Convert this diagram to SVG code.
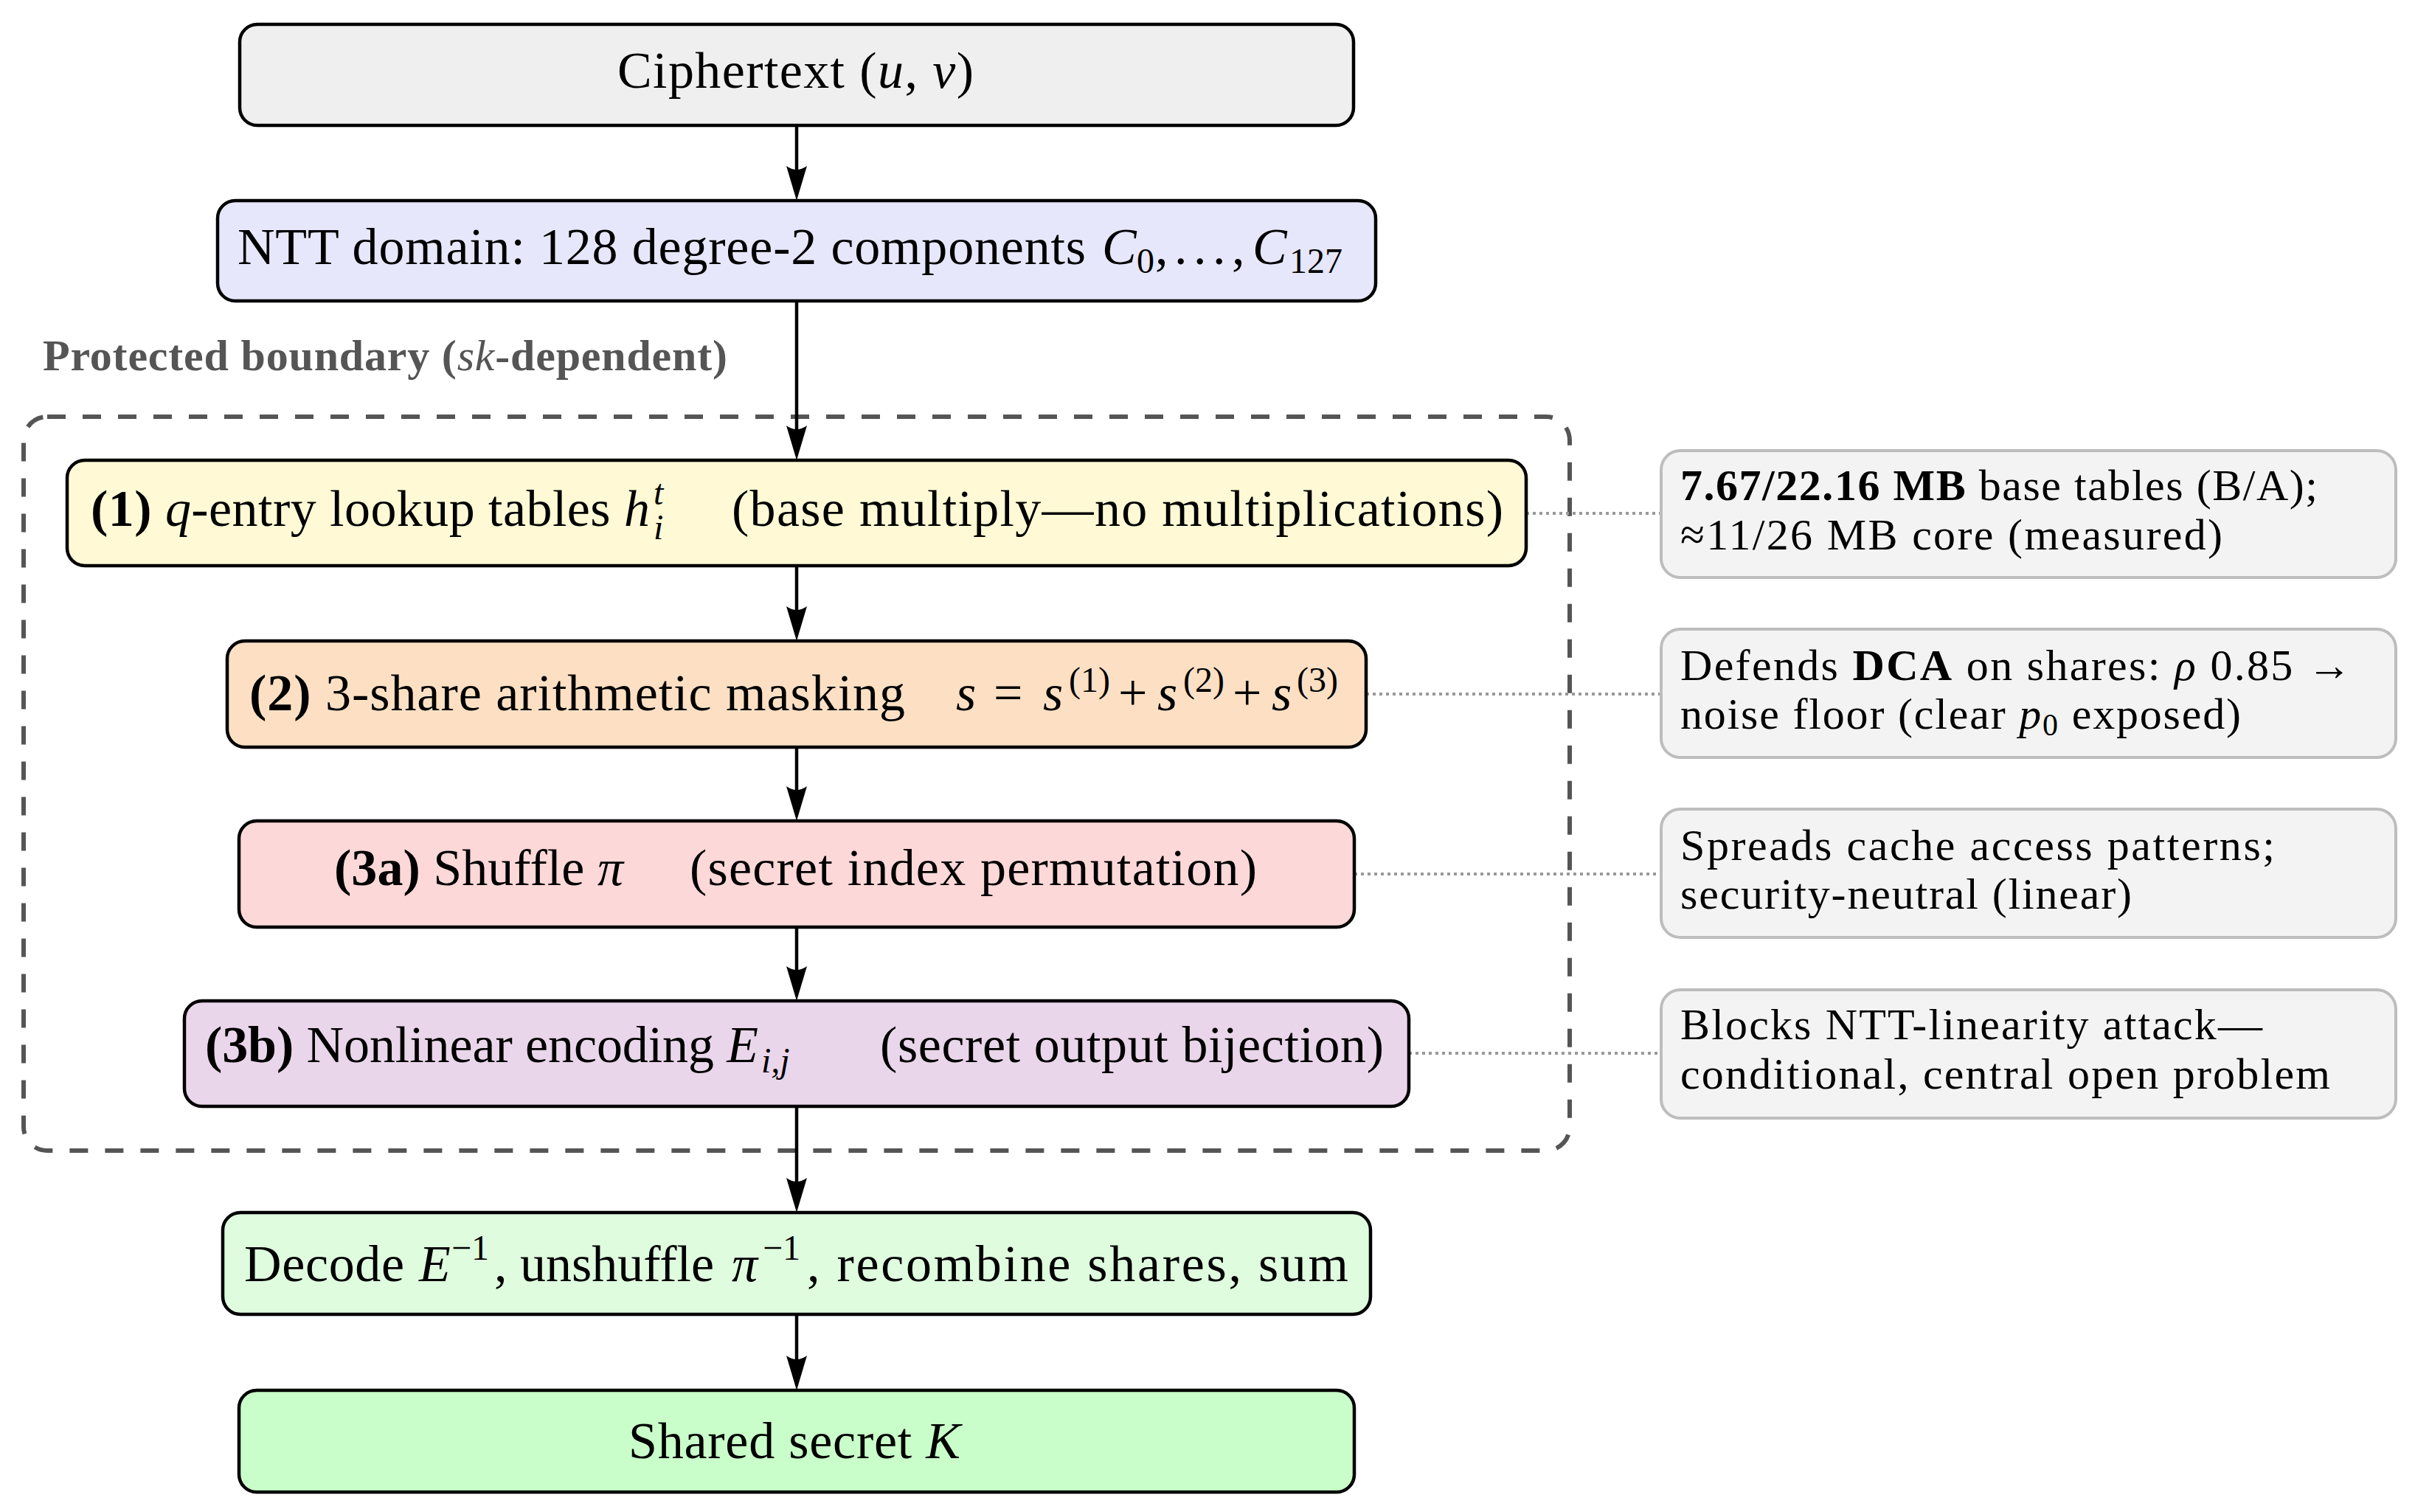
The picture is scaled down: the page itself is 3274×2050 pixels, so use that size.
<svg xmlns="http://www.w3.org/2000/svg" width="3274" height="2050" viewBox="0 0 3274 2050">
<style>
text{font-family:"Liberation Serif","Times New Roman",serif;fill:#000}
.m{font-size:70px}
.n{font-size:60px}
.s{font-size:48px}
.ns{font-size:42px}
.b{font-weight:bold}
.i{font-style:italic}
.box{stroke:#000;stroke-width:4.5}
.note{fill:#f3f3f3;stroke:#bdbdbd;stroke-width:4}
.arr{stroke:#000;stroke-width:4.5;fill:none}
.dot{stroke:#999;stroke-width:4;stroke-dasharray:4 5;fill:none}
.bound{fill:none;stroke:#555;stroke-width:6;stroke-dasharray:25 23}
.lbl{font-size:60px;font-weight:bold;fill:#555}
</style>
<defs>
<marker id="ah" viewBox="0 0 50 32" markerWidth="50" markerHeight="32" refX="38" refY="16" orient="auto" markerUnits="userSpaceOnUse">
<path d="M48,16 L1,2 Q11,16 1,30 Z" fill="#000"/>
</marker>
</defs>
<rect width="3274" height="2050" fill="#fff"/>

<g id="boundary">
<rect class="bound" x="32" y="565" width="2096" height="995" rx="32"/>
<text class="lbl" x="58" y="502" textLength="928" lengthAdjust="spacing">Protected boundary (<tspan font-style="italic" font-weight="normal">sk</tspan>-dependent)</text>
</g>

<g id="connectors">
<line class="dot" x1="2069" y1="696" x2="2252" y2="696"/>
<line class="dot" x1="1852" y1="941" x2="2252" y2="941"/>
<line class="dot" x1="1836" y1="1185" x2="2252" y2="1185"/>
<line class="dot" x1="1910" y1="1428" x2="2252" y2="1428"/>
<line class="arr" x1="1080" y1="170" x2="1080" y2="262" marker-end="url(#ah)"/>
<line class="arr" x1="1080" y1="408" x2="1080" y2="614" marker-end="url(#ah)"/>
<line class="arr" x1="1080" y1="767" x2="1080" y2="859" marker-end="url(#ah)"/>
<line class="arr" x1="1080" y1="1013" x2="1080" y2="1103" marker-end="url(#ah)"/>
<line class="arr" x1="1080" y1="1257" x2="1080" y2="1347" marker-end="url(#ah)"/>
<line class="arr" x1="1080" y1="1500" x2="1080" y2="1634" marker-end="url(#ah)"/>
<line class="arr" x1="1080" y1="1782" x2="1080" y2="1875" marker-end="url(#ah)"/>
</g>

<g id="ciphertext">
<rect class="box" x="325" y="33" width="1510" height="137" rx="24" fill="#efefef"/>
<text class="m" x="837" y="119" textLength="483" lengthAdjust="spacing">Ciphertext (<tspan class="i">u</tspan>, <tspan class="i">v</tspan>)</text>
</g>

<g id="ntt">
<rect class="box" x="295" y="272" width="1570" height="136" rx="24" fill="#e7e7fb"/>
<text class="m" x="322" y="358" textLength="1150" lengthAdjust="spacing">NTT domain: 128 degree-2 components</text>
<text class="m" y="358"><tspan class="i" x="1494">C</tspan><tspan class="s" x="1541" y="370">0</tspan><tspan x="1566" y="358" style="word-spacing:-9px">, . . . ,</tspan><tspan class="i" x="1698">C</tspan><tspan class="s" x="1748" y="370">127</tspan></text>
</g>

<g id="step1">
<rect class="box" x="91" y="624" width="1978" height="143" rx="24" fill="#fffad5"/>
<text class="m" x="123" y="713" textLength="758" lengthAdjust="spacing"><tspan class="b">(1)</tspan> <tspan class="i">q</tspan>-entry lookup tables <tspan class="i">h</tspan></text>
<text class="s i" x="886" y="684">t</text>
<text class="s i" x="886" y="731">i</text>
<text class="m" x="992" y="713" textLength="1046" lengthAdjust="spacing">(base multiply—no multiplications)</text>
</g>

<g id="step2">
<rect class="box" x="308" y="869" width="1544" height="144" rx="24" fill="#fde0c4"/>
<text class="m" x="338" y="963" textLength="889" lengthAdjust="spacing"><tspan class="b">(2)</tspan> 3-share arithmetic masking</text>
<text class="m" y="963"><tspan class="i" x="1296">s</tspan><tspan x="1347">=</tspan><tspan class="i" x="1414">s</tspan><tspan class="s" x="1449" y="938">(1)</tspan><tspan x="1516" y="963">+</tspan><tspan class="i" x="1569">s</tspan><tspan class="s" x="1604" y="938">(2)</tspan><tspan x="1671" y="963">+</tspan><tspan class="i" x="1724">s</tspan><tspan class="s" x="1758" y="938">(3)</tspan></text>
</g>

<g id="step3a">
<rect class="box" x="324" y="1113" width="1512" height="144" rx="24" fill="#fdd8d8"/>
<text class="m" x="453" y="1200" textLength="392" lengthAdjust="spacing"><tspan class="b">(3a)</tspan> Shuffle <tspan class="i">π</tspan></text>
<text class="m" x="935" y="1200" textLength="769" lengthAdjust="spacing">(secret index permutation)</text>
</g>

<g id="step3b">
<rect class="box" x="250" y="1357" width="1660" height="143" rx="24" fill="#ead6ea"/>
<text class="m" x="278" y="1440" textLength="750" lengthAdjust="spacing"><tspan class="b">(3b)</tspan> Nonlinear encoding <tspan class="i">E</tspan></text>
<text class="s i" x="1032" y="1454">i,j</text>
<text class="m" x="1193" y="1440" textLength="683" lengthAdjust="spacing">(secret output bijection)</text>
</g>

<g id="decode">
<rect class="box" x="302" y="1644" width="1556" height="138" rx="24" fill="#dffcdf"/>
<text class="m" x="331" y="1737" textLength="217" lengthAdjust="spacing">Decode</text>
<text class="m i" x="568" y="1737">E</text>
<text class="s" x="612" y="1708">−1</text>
<text class="m" x="670" y="1737" textLength="298" lengthAdjust="spacing">, unshuffle</text>
<text class="m i" x="992" y="1737">π</text>
<text class="s" x="1034" y="1708">−1</text>
<text class="m" x="1094" y="1737" textLength="734" lengthAdjust="spacing">, recombine shares, sum</text>
</g>

<g id="shared">
<rect class="box" x="324" y="1885" width="1512" height="138" rx="24" fill="#c9fdc9"/>
<text class="m" x="852" y="1977" textLength="450" lengthAdjust="spacing">Shared secret <tspan class="i">K</tspan></text>
</g>

<g id="note1">
<rect class="note" x="2252" y="611" width="996" height="172" rx="26"/>
<text class="n" x="2278" y="678" textLength="864" lengthAdjust="spacing"><tspan class="b">7.67/22.16 MB</tspan> base tables (B/A);</text>
<text class="n" x="2278" y="745" textLength="735" lengthAdjust="spacing">≈11/26 MB core (measured)</text>
</g>

<g id="note2">
<rect class="note" x="2252" y="853" width="996" height="174" rx="26"/>
<text class="n" x="2278" y="922" textLength="910" lengthAdjust="spacing">Defends <tspan class="b">DCA</tspan> on shares: <tspan class="i">ρ</tspan> 0.85 →</text>
<text class="n" x="2278" y="988" textLength="760" lengthAdjust="spacing">noise floor (clear <tspan class="i">p</tspan><tspan class="ns" dy="9">0</tspan><tspan dy="-9"> exposed)</tspan></text>
</g>

<g id="note3">
<rect class="note" x="2252" y="1097" width="996" height="174" rx="26"/>
<text class="n" x="2278" y="1166" textLength="806" lengthAdjust="spacing">Spreads cache access patterns;</text>
<text class="n" x="2278" y="1232" textLength="612" lengthAdjust="spacing">security-neutral (linear)</text>
</g>

<g id="note4">
<rect class="note" x="2252" y="1342" width="996" height="174" rx="26"/>
<text class="n" x="2278" y="1409" textLength="789" lengthAdjust="spacing">Blocks NTT-linearity attack—</text>
<text class="n" x="2278" y="1476" textLength="881" lengthAdjust="spacing">conditional, central open problem</text>
</g>
</svg>
